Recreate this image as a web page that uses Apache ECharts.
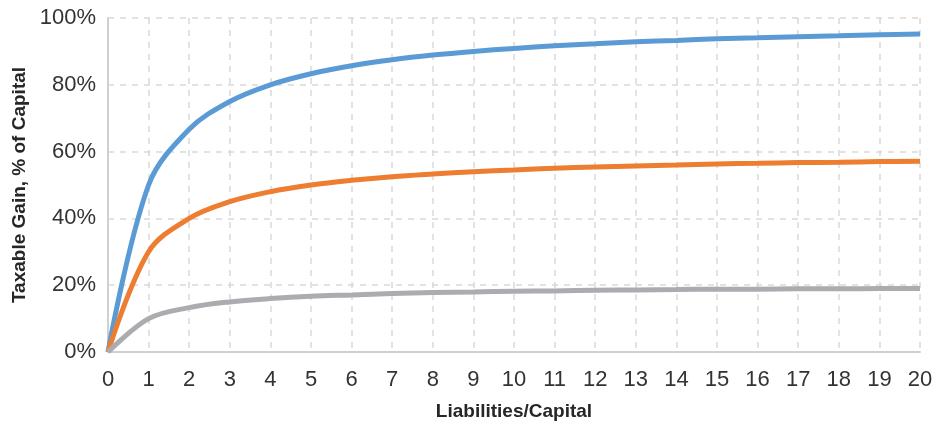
<!DOCTYPE html>
<html><head><meta charset="utf-8">
<script src="https://cdn.jsdelivr.net/npm/echarts@6/dist/echarts.min.js"></script>
<style>html,body{margin:0;padding:0;background:#fff}#c{width:936px;height:424px}</style>
</head><body><div id="c"></div>
<script>
const xValues = [0,1,2,3,4,5,6,7,8,9,10,11,12,13,14,15,16,17,18,19,20];
const blueSeries = [0,50,66.7,75,80,83.3,85.7,87.5,88.9,90,90.9,91.7,92.3,92.9,93.3,93.8,94.1,94.4,94.7,95,95.2];
const orangeSeries = [0,30,40,45,48,50,51.4,52.5,53.3,54,54.5,55,55.4,55.7,56,56.3,56.5,56.7,56.8,57,57.1];
const graySeries = [0,10,13.3,15,16,16.7,17.1,17.5,17.8,18,18.2,18.3,18.5,18.6,18.7,18.8,18.8,18.9,18.9,19,19];
const yTicks = [0,20,40,60,80,100];
const xTitle = 'Liabilities/Capital';
const yTitle = 'Taxable Gain, % of Capital';

const font = '"Liberation Sans", Arial, sans-serif';
function pairs(arr){ return xValues.map((x,i)=>[x,arr[i]]); }
const chart = echarts.init(document.getElementById('c'));
const mk = (data,color)=>({type:'line',data:pairs(data),smooth:0.35,showSymbol:false,
  lineStyle:{color:color,width:5},itemStyle:{color:color},z:3});
chart.setOption({
  animation:false,
  grid:{left:108,right:16,top:18,bottom:72,containLabel:false,outerBoundsMode:'none'},
  xAxis:{type:'value',min:0,max:20,interval:1,
    name:xTitle,nameLocation:'middle',nameGap:50,
    nameTextStyle:{fontFamily:font,fontWeight:'bold',fontSize:19,color:'#262626'},
    axisLine:{lineStyle:{color:'#d0d0d0',width:2}},axisTick:{show:false},
    axisLabel:{fontFamily:font,fontSize:22,color:'#333',margin:17},
    splitLine:{show:true,lineStyle:{color:'#d9d9d9',type:[6,6],width:1.5}}},
  yAxis:{type:'value',min:0,max:100,interval:20,
    name:yTitle,nameLocation:'middle',nameGap:75,
    nameTextStyle:{fontFamily:font,fontWeight:'bold',fontSize:19,color:'#262626'},
    axisLine:{show:true,lineStyle:{color:'#d0d0d0',width:2}},axisTick:{show:false},
    axisLabel:{fontFamily:font,fontSize:22,color:'#333',margin:12,formatter:v=>yTicks.includes(v)?v+'%':''},
    splitLine:{show:true,lineStyle:{color:'#d9d9d9',type:[6,6],width:1.5}}},
  series:[mk(blueSeries,'#5b9bd5'),mk(orangeSeries,'#ed7d31'),mk(graySeries,'#ababb0')]
});
</script></body></html>
